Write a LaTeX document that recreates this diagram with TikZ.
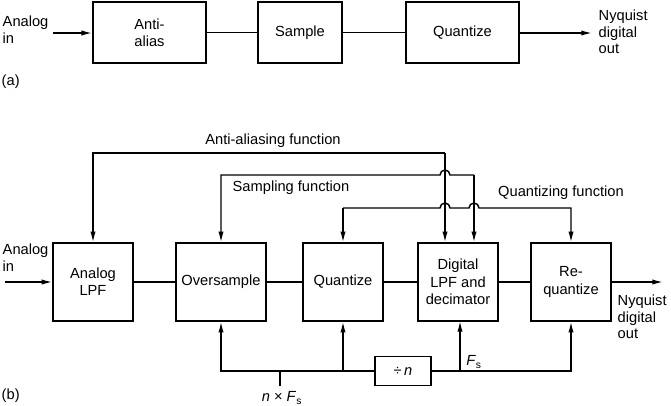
\documentclass[tikz,border=0pt]{standalone}
\usepackage{fontspec}
\setmainfont{Liberation Sans}
\usepackage{tikz}
\usetikzlibrary{arrows.meta}

\begin{document}
\begin{tikzpicture}[x=0.75pt,y=-0.75pt,line width=1.1pt,>={Latex[length=8pt,width=4pt]},
    blk/.style={draw,align=center,inner sep=1pt,font=\fontsize{11}{13}\selectfont},
    lbl/.style={inner sep=0pt,align=left,font=\fontsize{11}{12.5}\selectfont}]
  \useasboundingbox (0,0) rectangle (671,405);
  % (a) conventional chain
  \node[lbl,anchor=north west] (ina) at (2,15) {Analog\\in};
  \node[blk,minimum width=85pt,minimum height=46pt] (alias) at (149.5,32.5) {Anti-\\alias};
  \node[blk,minimum width=63pt,minimum height=46pt] (smp) at (300,32.5) {Sample};
  \node[blk,minimum width=85pt,minimum height=46pt] (qa) at (462.5,32.5) {Quantize};
  \node[lbl,anchor=north west] (outa) at (598,9) {Nyquist\\digital\\out};
  \node[lbl,anchor=west] (la) at (1,82) {(a)};
  \coordinate (ia) at (53,33);
  \coordinate (oa) at (592,33);
  \draw[->] (ia) -- (ia -| alias.west);
  \draw (alias) -- (smp) -- (qa);
  \draw[->] (qa.east |- oa) -- (oa);
  % (b) oversampling chain
  \node[lbl,anchor=north west] (inb) at (2,243) {Analog\\in};
  \node[blk,minimum width=60pt,minimum height=58.5pt] (lpf) at (93,282) {Analog\\LPF};
  \node[blk,minimum width=67.5pt,minimum height=58.5pt] (ovs) at (221,282) {Oversample};
  \node[blk,minimum width=60pt,minimum height=58.5pt] (qnt) at (343,282) {Quantize};
  \node[blk,minimum width=60pt,minimum height=58.5pt] (dlp) at (458,282) {Digital\\LPF and\\decimator};
  \node[blk,minimum width=60pt,minimum height=58.5pt] (rqt) at (571,282) {Re-\\quantize};
  \node[lbl,anchor=north west] (outb) at (617,294) {Nyquist\\digital\\out};
  \node[lbl,anchor=west] (lb) at (1,396) {(b)};
  \coordinate (ib) at (5,282);
  \coordinate (ob) at (663,282);
  \draw[->] (ib) -- (lpf);
  \draw (lpf) -- (ovs) -- (qnt) -- (dlp) -- (rqt);
  \draw[->] (rqt) -- (ob);
  % function lines
  \coordinate (aa) at (445,153);
  \coordinate (sf) at (474,175);
  \coordinate (qf) at (0,208);
  \draw[->] (aa) -- (aa |- dlp.north);
  \draw[->] (aa) -| (lpf.north);
  \draw[->] (sf) -- (sf |- dlp.north);
  \draw[->] (sf) -- (450,175) arc[start angle=0,end angle=-180,radius=5] -- (ovs.north |- sf) -- (ovs.north);
  \draw[->] (qnt.north |- qf) -- (qnt.north);
  \draw[->] (qnt.north |- qf) -- (440,208) arc[start angle=180,end angle=360,radius=5]
    -- (469,208) arc[start angle=180,end angle=360,radius=5] -- (rqt.north |- qf) -- (rqt.north);
  \node[lbl] (aaf) at (273,141) {Anti-aliasing function};
  \node[lbl] (sff) at (291,188) {Sampling function};
  \node[lbl] (qff) at (561,193) {Quantizing function};
  % clock lines
  \node[blk,minimum width=42pt,minimum height=21.5pt,inner sep=0pt] (div) at (403,371) {÷\,\textit{n}};
  \draw[->] (div.west) -| (ovs.south);
  \draw[->] (qnt.south |- div.west) -- (qnt.south);
  \draw[->] (div.east) -| (rqt.south);
  \draw[->] (460,371) -- (460,321);
  \coordinate (nfs) at (280,386);
  \draw (nfs) -- (nfs |- div.west);
  \node[lbl] (nfl) at (282,398) {\textit{n} × \textit{F}\textsubscript{s}};
  \node[lbl] (fsl) at (474,362) {\textit{F}\textsubscript{s}};
\end{tikzpicture}
\end{document}
